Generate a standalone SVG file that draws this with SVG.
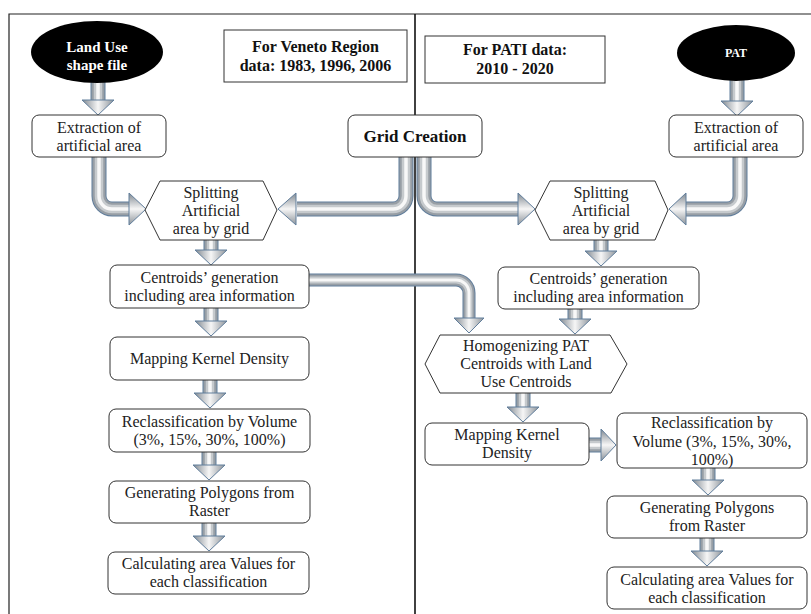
<svg xmlns="http://www.w3.org/2000/svg" width="811" height="614" viewBox="0 0 811 614">
<defs>
<linearGradient id="gx" x1="0" y1="0" x2="1" y2="0">
<stop offset="0" stop-color="#7f878f"/><stop offset="0.5" stop-color="#f6f6f6"/><stop offset="1" stop-color="#8c939a"/>
</linearGradient>
<linearGradient id="gy" x1="0" y1="0" x2="0" y2="1">
<stop offset="0" stop-color="#7f878f"/><stop offset="0.5" stop-color="#f6f6f6"/><stop offset="1" stop-color="#8c939a"/>
</linearGradient>
</defs>
<style>
.frame{fill:none;stroke:#222;stroke-width:1.2}
.div{fill:none;stroke:#111;stroke-width:1.6}
.o{fill:none;stroke:#617e9c;stroke-width:15}
.b{fill:none;stroke:#979ea5;stroke-width:13}
.m{fill:none;stroke:#c6cacd;stroke-width:8.5}
.h{fill:none;stroke:#f8f8f8;stroke-width:3.5}
.thin .o{stroke-width:13}
.thin .b{stroke-width:11}
.thin .m{stroke-width:7}
.thin .h{stroke-width:3}
.hv{fill:url(#gx);stroke:#617e9c;stroke-width:1}
.hh{fill:url(#gy);stroke:#617e9c;stroke-width:1}
.box{fill:#fff;stroke:#333;stroke-width:1}
.blk{fill:#000}
.t{font-family:"Liberation Serif","Times New Roman",serif;font-size:16px;fill:#222;text-anchor:middle}
.tb{font-family:"Liberation Serif","Times New Roman",serif;font-size:16px;font-weight:bold;fill:#111;text-anchor:middle}
.tw{font-family:"Liberation Serif","Times New Roman",serif;font-size:15px;font-weight:bold;fill:#fff;text-anchor:middle}
</style>
<rect width="811" height="614" fill="#fff"/>
<g id="frame">
<path class="frame" d="M9 614 V14 H811"/>
<path class="div" d="M415 14 V614"/>
</g>
<g id="connectors">
<g><path class="o" d="M98 82 V102"/><path class="b" d="M98 82 V102"/><path class="m" d="M98 82 V102"/><path class="h" d="M98 82 V102"/><polygon class="hv" points="82,100 114,100 98,115"/></g>
<g><path class="o" d="M737 80 V103"/><path class="b" d="M737 80 V103"/><path class="m" d="M737 80 V103"/><path class="h" d="M737 80 V103"/><polygon class="hv" points="721,101 753,101 737,116"/></g>
<g><path class="o" d="M99 157 V196 A13 13 0 0 0 112 209 H132"/><path class="b" d="M99 157 V196 A13 13 0 0 0 112 209 H132"/><path class="m" d="M99 157 V196 A13 13 0 0 0 112 209 H132"/><path class="h" d="M99 157 V196 A13 13 0 0 0 112 209 H132"/><polygon class="hh" points="129,193 129,225 146,209"/></g>
<g><path class="o" d="M406 157 V196 A13 13 0 0 1 393 209 H297"/><path class="b" d="M406 157 V196 A13 13 0 0 1 393 209 H297"/><path class="m" d="M406 157 V196 A13 13 0 0 1 393 209 H297"/><path class="h" d="M406 157 V196 A13 13 0 0 1 393 209 H297"/><polygon class="hh" points="296,193 296,225 278,209"/></g>
<g><path class="o" d="M424 157 V196 A13 13 0 0 0 437 209 H519"/><path class="b" d="M424 157 V196 A13 13 0 0 0 437 209 H519"/><path class="m" d="M424 157 V196 A13 13 0 0 0 437 209 H519"/><path class="h" d="M424 157 V196 A13 13 0 0 0 437 209 H519"/><polygon class="hh" points="518,193 518,225 535,209"/></g>
<g><path class="o" d="M740 157 V196 A13 13 0 0 1 727 209 H685"/><path class="b" d="M740 157 V196 A13 13 0 0 1 727 209 H685"/><path class="m" d="M740 157 V196 A13 13 0 0 1 727 209 H685"/><path class="h" d="M740 157 V196 A13 13 0 0 1 727 209 H685"/><polygon class="hh" points="686,193 686,225 669,209"/></g>
<g class="thin"><path class="o" d="M309 280 H456 A13 13 0 0 1 469 293 V319"/><path class="b" d="M309 280 H456 A13 13 0 0 1 469 293 V319"/><path class="m" d="M309 280 H456 A13 13 0 0 1 469 293 V319"/><path class="h" d="M309 280 H456 A13 13 0 0 1 469 293 V319"/><polygon class="hv" points="454,318 484,318 469,333"/></g>
<g><path class="o" d="M211 240 V252"/><path class="b" d="M211 240 V252"/><path class="m" d="M211 240 V252"/><path class="h" d="M211 240 V252"/><polygon class="hv" points="195,250 227,250 211,265"/></g>
<g><path class="o" d="M211 308 V323"/><path class="b" d="M211 308 V323"/><path class="m" d="M211 308 V323"/><path class="h" d="M211 308 V323"/><polygon class="hv" points="195,321 227,321 211,336"/></g>
<g><path class="o" d="M210 380 V395"/><path class="b" d="M210 380 V395"/><path class="m" d="M210 380 V395"/><path class="h" d="M210 380 V395"/><polygon class="hv" points="194,393 226,393 210,408"/></g>
<g><path class="o" d="M209 452 V467"/><path class="b" d="M209 452 V467"/><path class="m" d="M209 452 V467"/><path class="h" d="M209 452 V467"/><polygon class="hv" points="193,465 225,465 209,480"/></g>
<g><path class="o" d="M209 523 V538"/><path class="b" d="M209 523 V538"/><path class="m" d="M209 523 V538"/><path class="h" d="M209 523 V538"/><polygon class="hv" points="193,536 225,536 209,551"/></g>
<g><path class="o" d="M601 240 V253"/><path class="b" d="M601 240 V253"/><path class="m" d="M601 240 V253"/><path class="h" d="M601 240 V253"/><polygon class="hv" points="585,251 617,251 601,266"/></g>
<g><path class="o" d="M575 309 V321"/><path class="b" d="M575 309 V321"/><path class="m" d="M575 309 V321"/><path class="h" d="M575 309 V321"/><polygon class="hv" points="559,319 591,319 575,334"/></g>
<g><path class="o" d="M523 393 V409"/><path class="b" d="M523 393 V409"/><path class="m" d="M523 393 V409"/><path class="h" d="M523 393 V409"/><polygon class="hv" points="507,407 539,407 523,422"/></g>
<g><path class="o" d="M589 445 H603"/><path class="b" d="M589 445 H603"/><path class="m" d="M589 445 H603"/><path class="h" d="M589 445 H603"/><polygon class="hh" points="601,429 601,461 616,445"/></g>
<g><path class="o" d="M708 468 V482"/><path class="b" d="M708 468 V482"/><path class="m" d="M708 468 V482"/><path class="h" d="M708 468 V482"/><polygon class="hv" points="692,480 724,480 708,495"/></g>
<g><path class="o" d="M707 538 V553"/><path class="b" d="M707 538 V553"/><path class="m" d="M707 538 V553"/><path class="h" d="M707 538 V553"/><polygon class="hv" points="691,551 723,551 707,566"/></g>
</g>
<g id="landuse"><ellipse class="blk" cx="97" cy="52" rx="66" ry="31"/><text class="tw" x="97" y="52">Land Use</text><text class="tw" x="97" y="70">shape file</text></g>
<g id="pat"><ellipse class="blk" cx="736" cy="53" rx="59" ry="28"/><text class="tw" x="736" y="57" style="font-size:12px">PAT</text></g>
<g id="veneto"><rect class="box" x="224" y="30" width="183" height="52"/><text class="tb" x="315.5" y="52">For Veneto Region</text><text class="tb" x="315.5" y="71">data: 1983, 1996, 2006</text></g>
<g id="pati"><rect class="box" x="425" y="36" width="180" height="47"/><text class="tb" x="515" y="55">For PATI data:</text><text class="tb" x="515" y="74">2010 - 2020</text></g>
<g id="extractL"><rect class="box" x="32" y="115" width="134" height="42" rx="7"/><text class="t" x="99" y="133">Extraction of</text><text class="t" x="99" y="151">artificial area</text></g>
<g id="grid"><rect class="box" x="348" y="115" width="134" height="42" rx="7"/><text class="tb" x="415" y="142" style="font-size:17px">Grid Creation</text></g>
<g id="extractR"><rect class="box" x="669" y="115" width="134" height="42" rx="7"/><text class="t" x="736" y="133">Extraction of</text><text class="t" x="736" y="151">artificial area</text></g>
<g id="splitL"><polygon class="box" points="160,181 263,181 277,210 263,240 160,240 145,210"/><text class="t" x="211" y="198">Splitting</text><text class="t" x="211" y="216">Artificial</text><text class="t" x="211" y="234">area by grid</text></g>
<g id="splitR"><polygon class="box" points="550,181 655,181 668,210 655,240 550,240 535,210"/><text class="t" x="601" y="198">Splitting</text><text class="t" x="601" y="216">Artificial</text><text class="t" x="601" y="234">area by grid</text></g>
<g id="centroidsL"><rect class="box" x="110" y="265" width="199" height="43" rx="7"/><text class="t" x="209.5" y="283">Centroids’ generation</text><text class="t" x="209.5" y="301">including area information</text></g>
<g id="centroidsR"><rect class="box" x="498" y="267" width="201" height="42" rx="7"/><text class="t" x="598.5" y="284">Centroids’ generation</text><text class="t" x="598.5" y="302">including area information</text></g>
<g id="mappingL"><rect class="box" x="110" y="337" width="199" height="43" rx="7"/><text class="t" x="209.5" y="364">Mapping Kernel Density</text></g>
<g id="reclassL"><rect class="box" x="109" y="409" width="201" height="43" rx="7"/><text class="t" x="209.5" y="427">Reclassification by Volume</text><text class="t" x="209.5" y="445">(3%, 15%, 30%, 100%)</text></g>
<g id="genL"><rect class="box" x="109" y="481" width="201" height="42" rx="7"/><text class="t" x="209.5" y="498">Generating Polygons  from</text><text class="t" x="209.5" y="516">Raster</text></g>
<g id="calcL"><rect class="box" x="108" y="552" width="201" height="42" rx="7"/><text class="t" x="208.5" y="569">Calculating area Values for</text><text class="t" x="208.5" y="587">each classification</text></g>
<g id="homog"><polygon class="box" points="440,335 610,335 627,364 611,393 440,393 425,364"/><text class="t" x="526" y="351">Homogenizing  PAT</text><text class="t" x="526" y="369">Centroids with Land</text><text class="t" x="526" y="387">Use Centroids</text></g>
<g id="mappingR"><rect class="box" x="425" y="423" width="164" height="42" rx="7"/><text class="t" x="507" y="440">Mapping  Kernel</text><text class="t" x="507" y="458">Density</text></g>
<g id="reclassR"><rect class="box" x="617" y="413" width="190" height="55" rx="7"/><text class="t" x="712" y="428">Reclassification by</text><text class="t" x="712" y="447">Volume (3%, 15%, 30%,</text><text class="t" x="712" y="465">100%)</text></g>
<g id="genR"><rect class="box" x="607" y="496" width="200" height="42" rx="7"/><text class="t" x="707" y="513">Generating Polygons</text><text class="t" x="707" y="531">from Raster</text></g>
<g id="calcR"><rect class="box" x="607" y="567" width="200" height="42" rx="7"/><text class="t" x="707" y="585">Calculating area Values for</text><text class="t" x="707" y="603">each classification</text></g>
</svg>
